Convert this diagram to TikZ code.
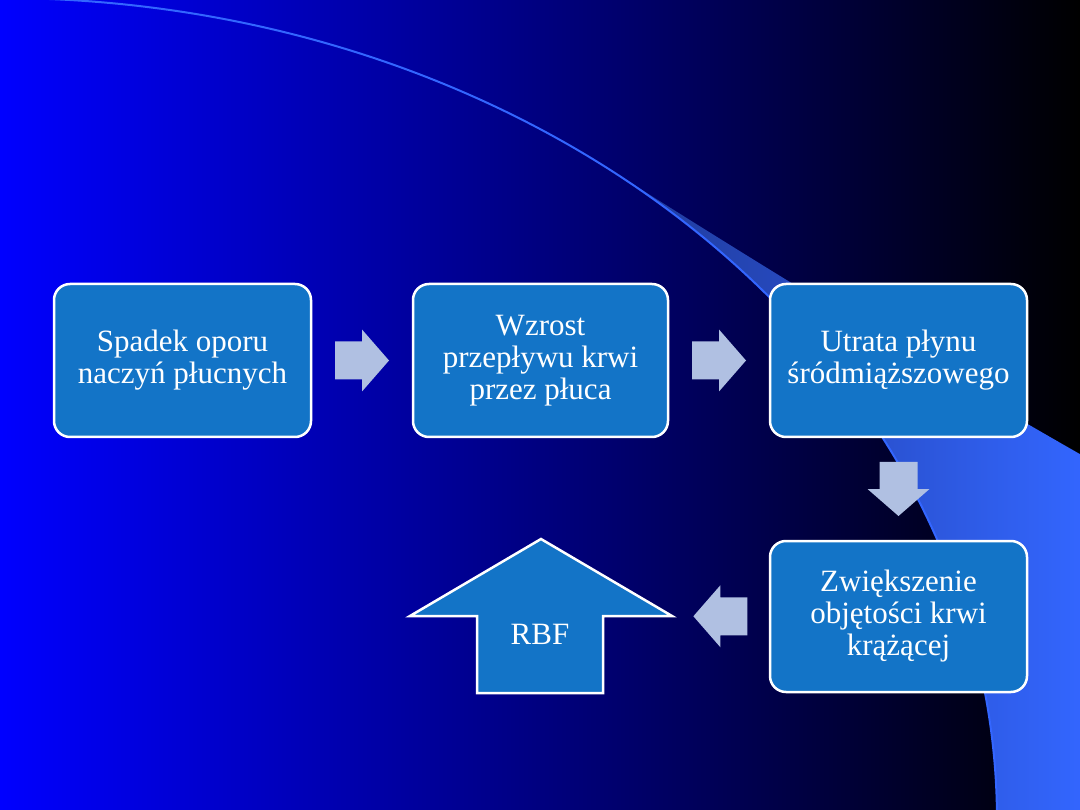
\documentclass[tikz,border=0pt]{standalone}
\usepackage{fontspec}
\setmainfont{Liberation Serif}
\newfontfamily\boxfont{Liberation Serif}
\usetikzlibrary{calc}
\definecolor{boxblue}{RGB}{19,116,199}
\definecolor{arrowgrey}{RGB}{176,192,226}
\definecolor{brightblue}{RGB}{51,102,255}
\definecolor{bandleft}{RGB}{31,57,152}
\definecolor{bgleft}{RGB}{0,0,255}
\begin{document}
\begin{tikzpicture}[x=1pt,y=-1pt,
  flowbox/.style={draw=white, line width=2.5pt, fill=boxblue, rounded corners=16pt,
    minimum width=257pt, minimum height=153pt, align=center, text=white,
    font=\boxfont\fontsize{31}{32}\selectfont, inner sep=0pt},
  labeltext/.style={text=white, font=\boxfont\fontsize{31}{32}\selectfont, inner sep=0pt},
  blockarrow/.pic={\fill[arrowgrey] (-27,-19) -- (0,-19) -- (0,-31) -- (27,0) -- (0,31) -- (0,19) -- (-27,19) -- cycle;}
]
% background
\shade[left color=bgleft, right color=black] (0,0) rectangle (1080,810);
\useasboundingbox (0,0) rectangle (1080,810);
% decorative band
\begin{scope}
  \clip (620,176) .. controls (800,290) and (950,380) .. (1085,457) -- (1085,900) -- (620,900) -- cycle;
  \clip (0,-2) arc[start angle=-90, end angle=5, x radius=997, y radius=822] -- (1085,900) -- (1085,-5) -- cycle;
  \shade[left color=bandleft, right color=brightblue] (620,150) rectangle (1085,815);
\end{scope}
\draw[brightblue, line width=2pt] (0,-2) arc[start angle=-90, end angle=5, x radius=997, y radius=822];
% boxes
\node[flowbox] (b1) at (182.5,360.5) {Spadek oporu\\naczyń płucnych};
\node[flowbox, minimum width=255pt] (b2) at (540.5,360.5) {Wzrost\\przepływu krwi\\przez płuca};
\node[flowbox] (b3) at (898.5,360.5) {Utrata płynu\\śródmiąższowego};
\node[flowbox, minimum height=151pt] (b4) at (898.5,616.5) {Zwiększenie\\objętości krwi\\krążącej};
% RBF up arrow
\coordinate (rtip) at (541,539);
\coordinate (rright) at (672,616);
\coordinate (rleft) at (410,616);
\draw[white, line width=2.5pt, fill=boxblue, line join=miter] (rtip) -- (rright) -- (603,616) -- (603,693) -- (477,693) -- (477,616) -- (rleft) -- cycle;
\node[labeltext] (rbf) at (540,634) {RBF};
% block arrows
\pic at ($(b1.east)!0.5!(b2.west)$) {blockarrow};
\pic at ($(b2.east)!0.5!(b3.west)$) {blockarrow};
\pic[rotate=-90] at ($(b3.south)!0.5!(b4.north)$) {blockarrow};
\pic[rotate=180] at ($(b4.west)!0.5!(rright)$) {blockarrow};
\end{tikzpicture}
\end{document}
